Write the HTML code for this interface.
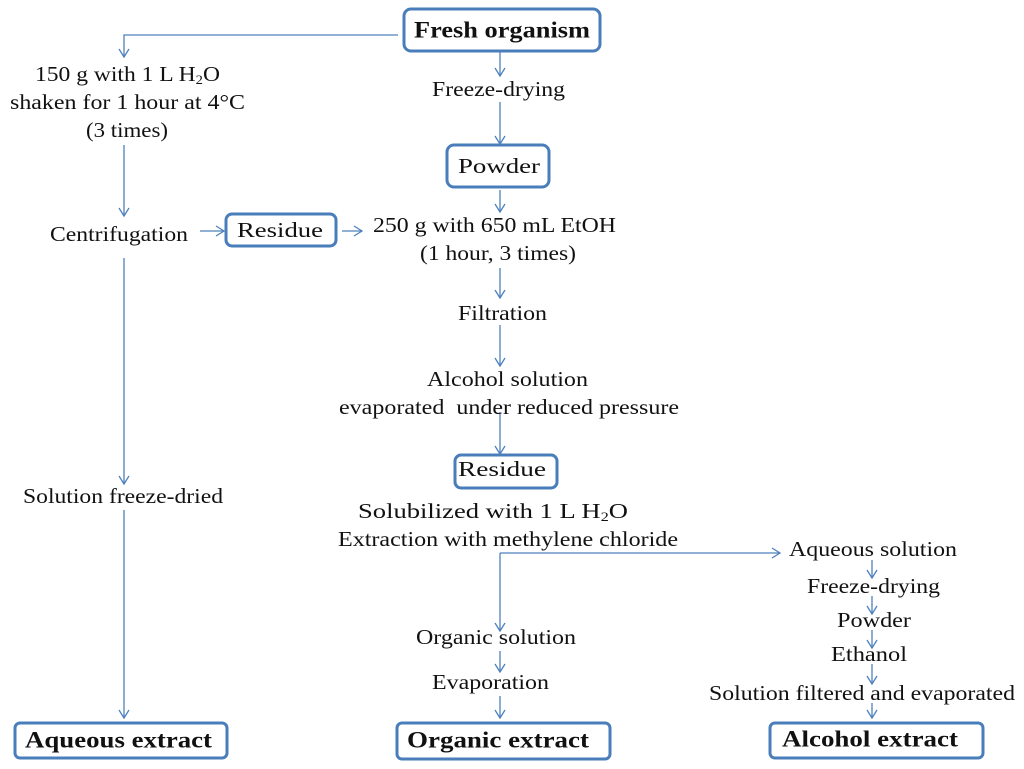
<!DOCTYPE html>
<html><head><meta charset="utf-8"><style>
html,body{margin:0;padding:0;background:#fff}
svg{display:block}
text{font-family:"Liberation Serif",serif;font-size:21px;fill:#111;text-anchor:start;dominant-baseline:central}
.b{font-weight:bold;font-size:23px}
.l{stroke:#4f81bd;stroke-width:1.3;fill:none}
.bx{stroke:#4a7ebb;stroke-width:3;fill:#fff}
</style></head><body>
<svg width="1024" height="769" viewBox="0 0 1024 769">
<defs><marker id="a" markerWidth="12" markerHeight="12" refX="10" refY="6" orient="auto" markerUnits="userSpaceOnUse"><path d="M2,1 L10,6 L2,11" fill="none" stroke="#4f81bd" stroke-width="1.3"/></marker></defs>
<rect class="bx" x="404" y="9" width="196" height="42" rx="7"/>
<rect class="bx" x="447" y="145" width="102" height="42" rx="7"/>
<rect class="bx" x="226" y="214" width="110" height="32" rx="6"/>
<rect class="bx" x="455" y="455" width="102" height="33" rx="6"/>
<rect class="bx" x="15" y="723" width="212" height="35" rx="5"/>
<rect class="bx" x="397" y="723" width="213" height="36" rx="5"/>
<rect class="bx" x="770" y="723" width="213" height="35" rx="5"/>
<path class="l" d="M398,35 H124 V57" marker-end="url(#a)"/>
<path class="l" d="M124,145 V216" marker-end="url(#a)"/>
<path class="l" d="M200,231 H224" marker-end="url(#a)"/>
<path class="l" d="M342,231 H362" marker-end="url(#a)"/>
<path class="l" d="M500,52 V76" marker-end="url(#a)"/>
<path class="l" d="M500,102 V144" marker-end="url(#a)"/>
<path class="l" d="M500,190 V212" marker-end="url(#a)"/>
<path class="l" d="M500,268 V298" marker-end="url(#a)"/>
<path class="l" d="M500,325 V366" marker-end="url(#a)"/>
<path class="l" d="M500,412 V454" marker-end="url(#a)"/>
<path class="l" d="M500,553 V631" marker-end="url(#a)"/>
<path class="l" d="M500,553 H780" marker-end="url(#a)"/>
<path class="l" d="M500,651 V672" marker-end="url(#a)"/>
<path class="l" d="M500,696 V718" marker-end="url(#a)"/>
<path class="l" d="M124,258 V484" marker-end="url(#a)"/>
<path class="l" d="M124,510 V718" marker-end="url(#a)"/>
<path class="l" d="M872,560 V578" marker-end="url(#a)"/>
<path class="l" d="M872,596 V614" marker-end="url(#a)"/>
<path class="l" d="M872,630 V648" marker-end="url(#a)"/>
<path class="l" d="M872,664 V684" marker-end="url(#a)"/>
<path class="l" d="M872,703 V718" marker-end="url(#a)"/>
<text class="b" x="414" y="30" textLength="176" lengthAdjust="spacingAndGlyphs">Fresh organism</text>
<text x="35" y="74" textLength="185" lengthAdjust="spacingAndGlyphs">150 g with 1 L H<tspan font-size="13" dy="5">2</tspan><tspan dy="-5">O</tspan></text>
<text x="10" y="102" textLength="235" lengthAdjust="spacingAndGlyphs">shaken for 1 hour at 4°C</text>
<text x="86" y="130" textLength="82" lengthAdjust="spacingAndGlyphs">(3 times)</text>
<text x="432" y="89" textLength="133" lengthAdjust="spacingAndGlyphs">Freeze-drying</text>
<text x="458" y="166" font-size="22" textLength="82" lengthAdjust="spacingAndGlyphs">Powder</text>
<text x="50" y="234" textLength="138" lengthAdjust="spacingAndGlyphs">Centrifugation</text>
<text x="237" y="230" font-size="22" textLength="86" lengthAdjust="spacingAndGlyphs">Residue</text>
<text x="373" y="225" textLength="243" lengthAdjust="spacingAndGlyphs">250 g with 650 mL EtOH</text>
<text x="420" y="253" textLength="156" lengthAdjust="spacingAndGlyphs">(1 hour, 3 times)</text>
<text x="458" y="313" textLength="89" lengthAdjust="spacingAndGlyphs">Filtration</text>
<text x="427" y="379" textLength="161" lengthAdjust="spacingAndGlyphs">Alcohol solution</text>
<text x="339" y="407" textLength="340" lengthAdjust="spacingAndGlyphs">evaporated&#160; under reduced pressure</text>
<text x="458" y="469" font-size="22" textLength="88" lengthAdjust="spacingAndGlyphs">Residue</text>
<text x="358" y="511" textLength="270" lengthAdjust="spacingAndGlyphs">Solubilized with 1 L H<tspan font-size="13" dy="5">2</tspan><tspan dy="-5">O</tspan></text>
<text x="338" y="539" textLength="340" lengthAdjust="spacingAndGlyphs">Extraction with methylene chloride</text>
<text x="789" y="549" textLength="168" lengthAdjust="spacingAndGlyphs">Aqueous solution</text>
<text x="807" y="586" textLength="133" lengthAdjust="spacingAndGlyphs">Freeze-drying</text>
<text x="837" y="620" textLength="74" lengthAdjust="spacingAndGlyphs">Powder</text>
<text x="831" y="654" textLength="76" lengthAdjust="spacingAndGlyphs">Ethanol</text>
<text x="709" y="693" textLength="306" lengthAdjust="spacingAndGlyphs">Solution filtered and evaporated</text>
<text x="416" y="637" textLength="160" lengthAdjust="spacingAndGlyphs">Organic solution</text>
<text x="432" y="682" textLength="117" lengthAdjust="spacingAndGlyphs">Evaporation</text>
<text x="23" y="496" textLength="200" lengthAdjust="spacingAndGlyphs">Solution freeze-dried</text>
<text class="b" x="25" y="740" textLength="187" lengthAdjust="spacingAndGlyphs">Aqueous extract</text>
<text class="b" x="407" y="740" textLength="182" lengthAdjust="spacingAndGlyphs">Organic extract</text>
<text class="b" x="782" y="739" textLength="176" lengthAdjust="spacingAndGlyphs">Alcohol extract</text>
</svg>
</body></html>
